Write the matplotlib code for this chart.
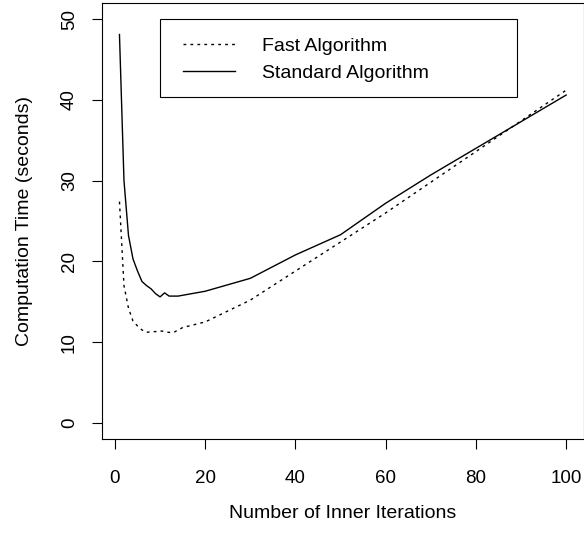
import matplotlib
matplotlib.use('Agg')
import matplotlib.pyplot as plt
from matplotlib.patches import Rectangle

plt.rcParams['font.family'] = ['Liberation Sans', 'DejaVu Sans']

# inner iterations and timings (seconds)
iterations = [1, 2, 3, 4, 5, 6, 7, 8, 9, 10, 11, 12, 13, 14, 15, 20, 30, 40, 50, 60, 70, 80, 90, 100]
standard_time = [48.1, 30.0, 23.2, 20.3, 18.8, 17.5, 17.0, 16.6, 16.0, 15.6, 16.1, 15.7,
                 15.7, 15.7, 15.8, 16.3, 17.9, 20.8, 23.3, 27.2, 30.7, 34.0, 37.3, 40.6]
fast_time = [27.4, 17.0, 14.2, 12.6, 12.0, 11.5, 11.2, 11.3, 11.3, 11.4, 11.3, 11.2,
             11.2, 11.5, 11.8, 12.5, 15.2, 18.8, 22.4, 26.0, 29.8, 33.6, 37.4, 41.2]

x_ticks = [0, 20, 40, 60, 80, 100]
y_ticks = [0, 10, 20, 30, 40, 50]

W, H = 584, 535
fig = plt.figure(figsize=(W / 100, H / 100), dpi=100)
ax = fig.add_axes([101.6 / W, 1 - 439 / H, (W - 101.6) / W, (439 - 3) / H])

ax.plot(iterations, fast_time, color='black', lw=1.0, linestyle=(0, (2, 3)), label='Fast Algorithm')
ax.plot(iterations, standard_time, color='black', lw=1.0, label='Standard Algorithm')

# R style: 4% padding around the data range
ax.set_xlim(1 - 3.96, 100 + 3.96)
ax.set_ylim(-2, 52)
ax.set_xticks(x_ticks)
ax.set_yticks(y_ticks)
ax.set_yticklabels([str(v) for v in y_ticks], rotation=90, va='center')
ax.tick_params(direction='out', length=7, width=0.8, labelsize=13.5)
ax.tick_params(axis='x', pad=15)
ax.tick_params(axis='y', pad=10)
for s in ax.spines.values():
    s.set_linewidth(0.8)

ax.set_xlabel('Number of Inner Iterations', fontsize=14, labelpad=13.5)
ax.set_ylabel('Computation Time (seconds)', fontsize=14, labelpad=20.5)

# legend box drawn separately so the padding matches the R legend
fig.patches.append(Rectangle((160 / W, 1 - 96.7 / H), 356.7 / W, 77.4 / H,
                             transform=fig.transFigure, fill=False,
                             edgecolor='black', linewidth=0.8))
ax.legend(loc='upper left', bbox_to_anchor=(183 / W, 1 - 37 / H),
          bbox_transform=fig.transFigure, fontsize=14, frameon=False,
          borderpad=0, borderaxespad=0, handlelength=2.67,
          handletextpad=1.4, labelspacing=0.5)

fig.savefig('out.png', dpi=100)
